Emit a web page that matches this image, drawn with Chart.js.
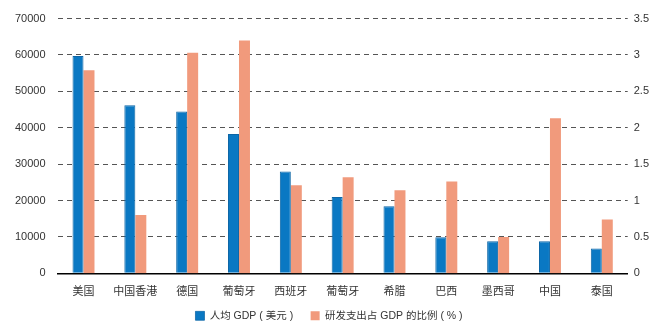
<!DOCTYPE html>
<html>
<head>
<meta charset="utf-8">
<script src="https://cdn.jsdelivr.net/npm/chart.js@4/dist/chart.umd.min.js"></script>
<style>
  html, body { margin: 0; padding: 0; background: #fff; }
  #wrap { width: 669px; height: 324px; position: relative; }
</style>
</head>
<body>
<div id="wrap"><canvas id="chart"></canvas></div>
<script>
"use strict";

// ── Data ──────────────────────────────────────────────────────────────────────
const categories = ["美国", "中国香港", "德国", "葡萄牙", "西班牙", "葡萄牙", "希腊", "巴西", "墨西哥", "中国", "泰国"];
const gdpPerCapita = [59700, 46200, 44450, 38300, 28000, 20950, 18460, 9920, 8820, 8800, 6800];
const rdShare      = [2.79, 0.80, 3.03, 3.20, 1.21, 1.32, 1.14, 1.26, 0.50, 2.13, 0.74];
const seriesNames  = ["人均 GDP ( 美元 )", "研发支出占 GDP 的比例 ( % )"];

// ── Style ─────────────────────────────────────────────────────────────────────
const C = {
  blue:   "#0a78c3",
  blueEdge: "#0d66a6",
  orange: "#f19a7c",
  text:   "#333333",
  grid:   "#555555",
};
const FONT = "'Liberation Sans', 'Noto Sans CJK SC', sans-serif";

Chart.defaults.font.family = FONT;
Chart.defaults.font.size   = 11;
Chart.defaults.color       = C.text;

// legend items sit close vertically but need a wider gap between them
function legendLabels(chart) {
  const items = Chart.defaults.plugins.legend.labels.generateLabels(chart);
  items.forEach((it, i) => {
    if (i < items.length - 1) it.text += "      ";
  });
  return items;
}

new Chart(document.getElementById("chart"), {
  type: "bar",
  data: {
    labels: categories,
    datasets: [
      {
        label: seriesNames[0],
        data: gdpPerCapita,
        yAxisID: "y",
        backgroundColor: C.blue,
        borderColor: C.blueEdge,
        borderWidth: { left: 1, right: 1, top: 1, bottom: 0 },
        categoryPercentage: 0.424,
        barPercentage: 1,
      },
      {
        label: seriesNames[1],
        data: rdShare,
        yAxisID: "y1",
        backgroundColor: C.orange,
        borderWidth: 0,
        categoryPercentage: 0.424,
        barPercentage: 1,
      },
    ],
  },
  options: {
    responsive: true,
    maintainAspectRatio: false,
    animation: false,
    layout: { padding: { left: 3, right: 14, top: 12, bottom: -7 } },
    plugins: {
      tooltip: { enabled: false },
      legend: {
        position: "bottom",
        labels: {
          boxWidth: 9,
          boxHeight: 9,
          padding: 0,
          color: C.text,
          font: { size: 10.5 },
          generateLabels: legendLabels,
        },
      },
    },
    scales: {
      x: {
        grid: { display: false, drawTicks: false },
        border: { display: true, color: "#000", width: 1.5 },
        ticks: { padding: 12, color: C.text, maxRotation: 0, autoSkip: false },
      },
      y: {
        position: "left",
        min: 0, max: 70000,
        ticks: { stepSize: 10000, padding: 12, color: C.text, callback: v => String(v) },
        grid: { color: C.grid, lineWidth: 1, drawTicks: false },
        border: { display: false, dash: [5, 4] },
      },
      y1: {
        position: "right",
        min: 0, max: 3.5,
        ticks: { stepSize: 0.5, padding: 6, color: C.text, callback: v => String(v) },
        grid: { display: false, drawTicks: false },
        border: { display: false },
      },
    },
  },
});
</script>
</body>
</html>
